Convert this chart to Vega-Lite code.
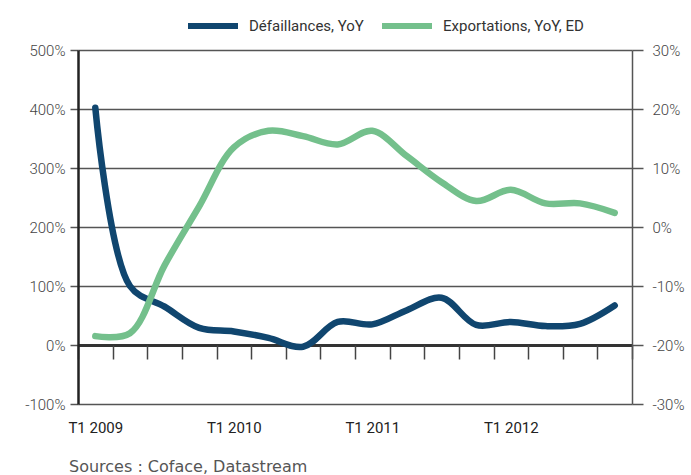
{
  "$schema": "https://vega.github.io/schema/vega-lite/v6.json",
  "width": 554,
  "height": 354,
  "autosize": {"type": "none"},
  "padding": {"left": 78, "top": 50, "right": 59, "bottom": 71},
  "background": "white",
  "title": {
    "text": "Sources : Coface, Datastream",
    "orient": "bottom",
    "anchor": "start",
    "frame": "group",
    "dx": -9,
    "offset": 24,
    "font": "DejaVu Sans",
    "fontSize": 16,
    "fontWeight": "normal",
    "color": "#555555"
  },
  "config": {
    "view": {"stroke": null},
    "font": "Roboto"
  },
  "data": {
    "values": [
      {"q": "T1 2009", "d": 402, "e": -18.5},
      {"q": "T2 2009", "d": 100, "e": -18},
      {"q": "T3 2009", "d": 65, "e": -6.5},
      {"q": "T4 2009", "d": 29, "e": 3.5},
      {"q": "T1 2010", "d": 23, "e": 13.5},
      {"q": "T2 2010", "d": 12, "e": 16.3},
      {"q": "T3 2010", "d": -3, "e": 15.4},
      {"q": "T4 2010", "d": 39, "e": 14},
      {"q": "T1 2011", "d": 35, "e": 16.3},
      {"q": "T2 2011", "d": 59, "e": 12},
      {"q": "T3 2011", "d": 80, "e": 7.6},
      {"q": "T4 2011", "d": 34, "e": 4.4},
      {"q": "T1 2012", "d": 39, "e": 6.3},
      {"q": "T2 2012", "d": 32, "e": 4},
      {"q": "T3 2012", "d": 36, "e": 4},
      {"q": "T4 2012", "d": 67, "e": 2.4}
    ]
  },
  "encoding": {
    "x": {
      "field": "q",
      "type": "ordinal",
      "sort": null,
      "scale": {"type": "band", "paddingInner": 0, "paddingOuter": 0},
      "axis": {
        "title": null,
        "orient": "bottom",
        "offset": -59,
        "domain": false,
        "tickBand": "extent",
        "tickSize": 14,
        "tickWidth": 1.5,
        "tickColor": "#444444",
        "labelPadding": 61,
        "labelAngle": 0,
        "labelFontSize": 15,
        "labelColor": "#222222",
        "labelExpr": "substring(datum.label, 0, 2) == 'T1' ? datum.label : ''",
        "grid": false
      }
    }
  },
  "layer": [
    {
      "mark": {"type": "line", "interpolate": "catmull-rom", "strokeWidth": 6.5, "strokeCap": "round"},
      "encoding": {
        "y": {
          "field": "d",
          "type": "quantitative",
          "scale": {"domain": [-100, 500], "nice": false, "zero": false},
          "axis": {
            "title": null,
            "values": [-100, 0, 100, 200, 300, 400, 500],
            "labelExpr": "datum.value + '%'",
            "labelFontSize": 15,
            "labelFontWeight": 300,
            "labelColor": "#444444",
            "labelPadding": 5,
            "tickSize": 8,
            "tickColor": "#555555",
            "tickWidth": 1.5,
            "domainColor": "#222222",
            "domainWidth": 2.5,
            "grid": true,
            "gridColor": {"condition": {"test": "datum.value === 0", "value": "#333333"}, "value": "#555555"},
            "gridWidth": {"condition": {"test": "datum.value === 0", "value": 3}, "value": 1.5},
            "gridOpacity": 1
          }
        },
        "color": {
          "datum": "Défaillances, YoY",
          "type": "nominal",
          "scale": {"domain": ["Défaillances, YoY", "Exportations, YoY, ED"], "range": ["#10466f", "#74c08c"]},
          "legend": {
            "title": null,
            "orient": "none",
            "direction": "horizontal",
            "legendX": 107,
            "legendY": -52,
            "padding": 0,
            "symbolType": "stroke",
            "symbolSize": 2500,
            "symbolStrokeWidth": 6,
            "labelFontSize": 15,
            "labelColor": "#333333",
            "labelOffset": 8,
            "columnPadding": 6
          }
        }
      }
    },
    {
      "mark": {"type": "line", "interpolate": "catmull-rom", "strokeWidth": 6.5, "strokeCap": "round"},
      "encoding": {
        "y": {
          "field": "e",
          "type": "quantitative",
          "scale": {"domain": [-30, 30], "nice": false, "zero": false},
          "axis": {
            "title": null,
            "orient": "right",
            "values": [-30, -20, -10, 0, 10, 20, 30],
            "labelExpr": "datum.value + '%'",
            "labelFontSize": 15,
            "labelFontWeight": 300,
            "labelColor": "#444444",
            "labelPadding": 9,
            "tickSize": 11,
            "tickColor": "#555555",
            "tickWidth": 1.5,
            "domainColor": "#555555",
            "domainWidth": 1.5,
            "grid": false
          }
        },
        "color": {"datum": "Exportations, YoY, ED", "type": "nominal"}
      }
    }
  ],
  "resolve": {"scale": {"y": "independent"}}
}
